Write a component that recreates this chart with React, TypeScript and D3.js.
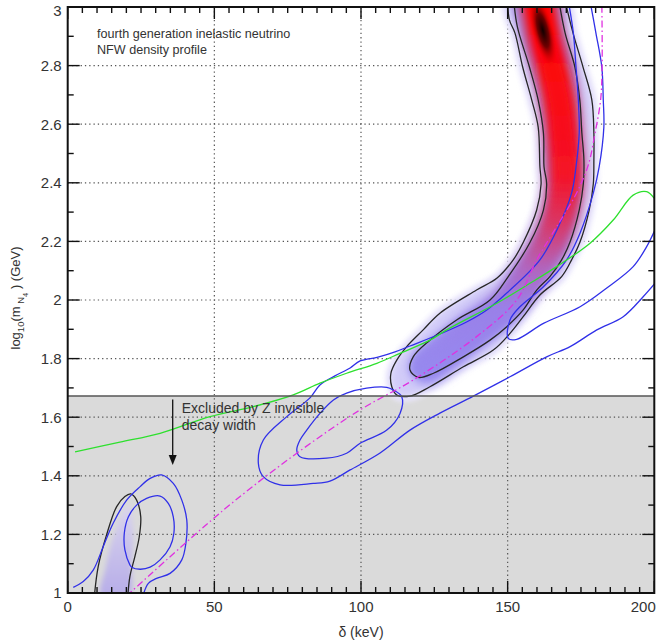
import React from "react";
import * as d3 from "d3";

type P = [number, number];

// ---------- axes ----------
const xDomain: [number, number] = [0, 200];
const yDomain: [number, number] = [1, 3];
const xMajorTicks = [0, 50, 100, 150, 200];
const xTickLabels = ["0", "50", "100", "150", "200"];
const yMajorTicks = [1, 1.2, 1.4, 1.6, 1.8, 2, 2.2, 2.4, 2.6, 2.8, 3];
const yTickLabels = ["1", "1.2", "1.4", "1.6", "1.8", "2", "2.2", "2.4", "2.6", "2.8", "3"];
const xGridValues = [50, 100, 150];
const yGridValues = [1.2, 1.4, 1.6, 1.8, 2, 2.2, 2.4, 2.6, 2.8];
const xLabel = "δ (keV)";

// ---------- Z invisible width exclusion ----------
const zInvisibleLimit = 1.672;
const annotationLines = ["Excluded by Z invisible", "decay width"];
const annotationAnchor: P = [38.9, 1.614];
const arrowFromTo: [P, P] = [[35.8, 1.66], [35.8, 1.437]];
const titleLines = ["fourth generation inelastic neutrino", "NFW density profile"];
const titleAnchor: P = [10, 2.894];

// ---------- main likelihood band (black contours, heat map) ----------
const band95: P[] = [
  [150.0, 3.02], [150.6, 2.956], [152.5, 2.911], [155.1, 2.796], [158.2, 2.683], [160.4, 2.591],
  [161.0, 2.455], [161.4, 2.396], [159.9, 2.307], [155.3, 2.196], [151.9, 2.137], [146.4, 2.075],
  [139.4, 2.034], [126.9, 1.955], [121.2, 1.898], [115.6, 1.841], [112.2, 1.795], [110.2, 1.75],
  [110.5, 1.704], [112.2, 1.676], [116.7, 1.672], [123.5, 1.704], [134.9, 1.772], [145.1, 1.829],
  [150.8, 1.886], [155.3, 1.943], [161.0, 2.017], [168.4, 2.08], [171.8, 2.137], [174.6, 2.196],
  [177.8, 2.307], [179.2, 2.396], [179.4, 2.478], [179.4, 2.57], [178.7, 2.683], [175.7, 2.795],
  [172.3, 2.911], [169.6, 3.02],
];
const band68: P[] = [
  [152.1, 3.02], [153.3, 2.933], [157.4, 2.796], [160.4, 2.683], [162.2, 2.57], [162.4, 2.455],
  [163.3, 2.396], [162.2, 2.307], [157.6, 2.196], [150.2, 2.08], [144.0, 2.0], [132.6, 1.932],
  [123.5, 1.863], [117.8, 1.806], [116.7, 1.761], [119.5, 1.736], [124.7, 1.75], [134.9, 1.806],
  [144.0, 1.863], [149.7, 1.909], [155.3, 1.966], [159.9, 2.034], [164.4, 2.08], [168.4, 2.137],
  [171.2, 2.196], [174.4, 2.307], [175.8, 2.396], [176.0, 2.478], [175.3, 2.57], [174.6, 2.683],
  [172.9, 2.796], [169.6, 2.911], [167.5, 3.02],
];
const bandSpine: P[] = [
  [160.3, 3.03], [162.5, 2.9], [165.1, 2.796], [167.5, 2.683], [168.8, 2.57], [169.6, 2.396],
  [168.3, 2.307], [164.4, 2.195], [157.3, 2.08], [151.3, 2.0], [139.6, 1.909], [130.7, 1.829],
  [123.0, 1.77],
];
const darkCore: P = [162.0, 2.92];

// ---------- low-mass island ----------
const lowBlack: P[] = [
  [9.1, 0.99], [10.4, 1.09], [13.3, 1.2], [16.7, 1.295], [19.5, 1.329], [21.5, 1.338], [23.5, 1.317],
  [24.9, 1.26], [24.4, 1.192], [22.9, 1.124], [21.2, 1.056], [20.5, 0.99],
];
const lowBlob: P[] = [
  [11.5, 0.99], [13.0, 1.09], [15.5, 1.19], [18.5, 1.27], [20.8, 1.3], [22.3, 1.22], [21.8, 1.1], [21.0, 0.99],
];

// ---------- second analysis (blue contours) ----------
const blue95Main: P[] = [
  [170.7, 3.02], [172.4, 2.911], [173.3, 2.795], [174.1, 2.683], [174.4, 2.57], [173.3, 2.454],
  [171.8, 2.365], [167.3, 2.25], [161.0, 2.137], [149.7, 2.024], [142.9, 1.966], [136.0, 1.925],
  [126.9, 1.884], [116.7, 1.843], [111.6, 1.823], [105.8, 1.805], [99.7, 1.792], [96.3, 1.768],
  [91.1, 1.741], [86.0, 1.71], [82.6, 1.666], [74.7, 1.602], [66.7, 1.522], [65.0, 1.443],
  [66.7, 1.397], [72.4, 1.369], [83.7, 1.374], [89.4, 1.382], [96.3, 1.42], [106.5, 1.478],
  [116.7, 1.556], [126.9, 1.614], [138.3, 1.672], [150.8, 1.738], [163.3, 1.806], [171.3, 1.841],
  [180.4, 1.898], [189.4, 1.943], [196.2, 2.011], [200.5, 2.06],
];
const blue68Right: P[] = [
  [178.1, 3.02], [180.1, 2.911], [182.1, 2.795], [182.6, 2.683], [182.8, 2.59], [181.2, 2.454],
  [179.2, 2.365], [174.7, 2.229], [170.1, 2.137], [162.2, 2.045], [154.2, 1.977], [150.8, 1.932],
  [150.2, 1.869], [153.1, 1.866], [162.2, 1.92], [174.7, 1.977], [183.8, 2.041], [192.8, 2.114],
  [197.4, 2.182], [200.5, 2.245],
];
const blue68Mid: P[] = [
  [111.0, 1.693], [113.9, 1.67], [113.3, 1.613], [108.8, 1.556], [99.7, 1.511], [95.1, 1.477],
  [88.3, 1.46], [79.2, 1.465], [78.1, 1.488], [79.2, 1.522], [81.5, 1.556], [86.0, 1.613],
  [90.6, 1.659], [95.1, 1.682], [101.9, 1.699], [108.8, 1.702],
];
const blue95Low: P[] = [
  [1.9, 1.019], [5.3, 1.039], [8.7, 1.078], [12.1, 1.158], [15.5, 1.238], [20.1, 1.317], [24.7, 1.363],
  [28.1, 1.391], [32.0, 1.403], [36.0, 1.374], [38.9, 1.317], [40.6, 1.249], [40.3, 1.17],
  [38.9, 1.113], [34.9, 1.067], [30.3, 1.05], [27.5, 1.033], [25.8, 0.995],
];
const blue68Low: P[] = [
  [21.2, 1.096], [19.5, 1.147], [19.3, 1.204], [20.7, 1.26], [23.5, 1.3], [26.9, 1.323], [31.5, 1.331],
  [34.3, 1.306], [36.0, 1.26], [36.2, 1.204], [34.9, 1.158], [31.5, 1.113], [28.1, 1.088],
  [24.7, 1.081], [21.8, 1.088],
];

// ---------- theory line (magenta) and green limit ----------
const magentaLine: P[] = [
  [20.1, 0.99], [53.1, 1.283], [78.1, 1.477], [99.7, 1.625], [117.8, 1.727], [139.4, 1.875],
  [153.1, 2.0], [159.9, 2.137], [166.7, 2.25], [173.5, 2.365], [177.5, 2.461], [179.8, 2.57],
  [181.7, 2.683], [182.2, 2.795], [182.1, 3.02],
];
const greenLine: P[] = [
  [2.5, 1.482], [17.8, 1.515], [31.5, 1.545], [48.5, 1.602], [63.3, 1.636], [76.9, 1.676],
  [86.0, 1.716], [95.1, 1.75], [105.4, 1.784], [113.3, 1.818], [123.5, 1.863], [129.2, 1.898],
  [146.3, 1.989], [157.6, 2.057], [166.7, 2.114], [178.1, 2.194], [186.0, 2.273], [192.8, 2.358],
  [197.4, 2.37], [200.0, 2.347],
];

const FONT = "'Liberation Sans', Arial, Helvetica, sans-serif";

export default function App() {
  const W = 665;
  const H = 642;
  const x = d3.scaleLinear().domain(xDomain).range([67.7, 654.3]);
  const y = d3.scaleLinear().domain(yDomain).range([593, 7]);
  const [x0, x1] = x.range();
  const [yb, yt] = y.range();

  const smooth = d3.line<P>().x(d => x(d[0])).y(d => y(d[1])).curve(d3.curveCatmullRom.alpha(0.5));
  const smoothClosed = d3.line<P>().x(d => x(d[0])).y(d => y(d[1])).curve(d3.curveCatmullRomClosed.alpha(0.5));

  const xMinor = d3.range(0, 200.001, 5);
  const yMinor = d3.range(1, 3.0001, 0.1);

  const blue = "#3030e8";
  const black = "#262626";
  const txt = "#333";

  return (
    <svg width={W} height={H} style={{ position: "absolute", left: 0, top: 0, background: "#fff" }}
      xmlns="http://www.w3.org/2000/svg">
      <defs>
        <clipPath id="plot">
          <rect x={x0} y={yt} width={x1 - x0} height={yb - yt} />
        </clipPath>
        <filter id="b2" x="-50%" y="-50%" width="200%" height="200%">
          <feGaussianBlur stdDeviation={2.5} />
        </filter>
        <filter id="b3" x="-50%" y="-50%" width="200%" height="200%">
          <feGaussianBlur stdDeviation={3.5} />
        </filter>
        <filter id="b5" x="-50%" y="-50%" width="200%" height="200%">
          <feGaussianBlur stdDeviation={5} />
        </filter>
        <filter id="b7" x="-50%" y="-50%" width="200%" height="200%">
          <feGaussianBlur stdDeviation={6} />
        </filter>
        <linearGradient id="coreGrad" gradientUnits="userSpaceOnUse" x1={0} x2={0} y1={y(1.72)} y2={y(3)}>
          <stop offset="0" stopColor="#968af0" />
          <stop offset="0.2" stopColor="#9a80e8" />
          <stop offset="0.3" stopColor="#b066c0" />
          <stop offset="0.42" stopColor="#d83868" />
          <stop offset="0.55" stopColor="#f41428" />
          <stop offset="1" stopColor="#ff0000" />
        </linearGradient>
        <radialGradient id="darkGrad">
          <stop offset="0" stopColor="#100000" />
          <stop offset="0.45" stopColor="#700000" />
          <stop offset="1" stopColor="#ff0000" stopOpacity={0} />
        </radialGradient>
        <linearGradient id="blobGrad" gradientUnits="userSpaceOnUse" x1={0} x2={0} y1={y(1.0)} y2={y(1.33)}>
          <stop offset="0" stopColor="#b8aee8" />
          <stop offset="1" stopColor="#dcd8ee" />
        </linearGradient>
      </defs>

      {/* plot background */}
      <rect x={x0} y={yt} width={x1 - x0} height={yb - yt} fill="#fff" />
      {/* excluded region */}
      <rect x={x0} y={y(zInvisibleLimit)} width={x1 - x0} height={yb - y(zInvisibleLimit)} fill="#dadada" />

      {/* grid */}
      <g stroke="#555" strokeWidth={1.2} strokeDasharray="1.3 3">
        {xGridValues.map(v => (
          <line key={"gx" + v} x1={x(v)} x2={x(v)} y1={yt} y2={yb} />
        ))}
        {yGridValues.map(v => (
          <line key={"gy" + v} x1={x0} x2={x1} y1={y(v)} y2={y(v)} />
        ))}
      </g>

      <g clipPath="url(#plot)">
        {/* heat map of the main band */}
        <path d={smoothClosed(band95) || ""} fill="#ece9fc" stroke="#ece9fc" strokeWidth={10} filter="url(#b2)" />
        <path d={smoothClosed(band95) || ""} fill="#d2ccf8" filter="url(#b3)" />
        <path d={smoothClosed(band68) || ""} fill="#9c91ee" filter="url(#b3)" />
        <path d={smooth(bandSpine) || ""} fill="none" stroke="url(#coreGrad)" strokeWidth={34}
          strokeLinecap="round" filter="url(#b7)" />
        <path d={smooth(bandSpine) || ""} fill="none" stroke="url(#coreGrad)" strokeWidth={18}
          strokeLinecap="round" filter="url(#b3)" opacity={0.8} />
        <ellipse cx={x(darkCore[0])} cy={y(darkCore[1])} rx={11} ry={38}
          transform={`rotate(-14 ${x(darkCore[0])} ${y(darkCore[1])})`} fill="url(#darkGrad)" />

        {/* low-mass island heat */}
        <path d={smoothClosed(lowBlob) || ""} fill="url(#blobGrad)" filter="url(#b2)" />

        {/* black contours */}
        <path d={smooth(band95) || ""} fill="none" stroke={black} strokeWidth={1.3} />
        <path d={smooth(band68) || ""} fill="none" stroke={black} strokeWidth={1.3} />
        <path d={smooth(lowBlack) || ""} fill="none" stroke={black} strokeWidth={1.3} />

        {/* blue contours */}
        <g fill="none" stroke={blue} strokeWidth={1.3}>
          <path d={smooth(blue95Main) || ""} />
          <path d={smooth(blue68Right) || ""} />
          <path d={smoothClosed(blue68Mid) || ""} />
          <path d={smooth(blue95Low) || ""} />
          <path d={smoothClosed(blue68Low) || ""} />
        </g>

        {/* green and magenta lines */}
        <path d={smooth(greenLine) || ""} fill="none" stroke="#2ee02e" strokeWidth={1.3} />
        <path d={smooth(magentaLine) || ""} fill="none" stroke="#e030e0" strokeWidth={1.3}
          strokeDasharray="7 3 1.5 3" />
      </g>

      {/* exclusion boundary line */}
      <line x1={x0} x2={x1} y1={y(zInvisibleLimit)} y2={y(zInvisibleLimit)} stroke="#555" strokeWidth={1.5} />

      {/* annotation */}
      <g fontFamily={FONT} fill={txt}>
        {titleLines.map((t, i) => (
          <text key={t} x={x(titleAnchor[0])} y={y(titleAnchor[1]) + i * 15.5} fontSize={12.6}>{t}</text>
        ))}
        {annotationLines.map((t, i) => (
          <text key={t} x={x(annotationAnchor[0])} y={y(annotationAnchor[1]) + i * 17} fontSize={14}>{t}</text>
        ))}
      </g>
      <line x1={x(arrowFromTo[0][0])} x2={x(arrowFromTo[1][0])} y1={y(arrowFromTo[0][1])}
        y2={y(arrowFromTo[1][1]) - 8} stroke="#111" strokeWidth={1.3} />
      <path d={`M${x(arrowFromTo[1][0])},${y(arrowFromTo[1][1])} l-4,-10 l8,0 z`} fill="#111" />

      {/* frame and ticks */}
      <g stroke="#111" strokeWidth={1.4}>
        {xMinor.map(v => {
          const major = xMajorTicks.includes(v);
          const len = major ? 12 : 6;
          return (
            <g key={"xt" + v}>
              <line x1={x(v)} x2={x(v)} y1={yb} y2={yb - len} />
              <line x1={x(v)} x2={x(v)} y1={yt} y2={yt + len} />
            </g>
          );
        })}
        {yMinor.map((v, i) => {
          const len = i % 2 === 0 ? 12 : 6;
          return (
            <g key={"yt" + i}>
              <line x1={x0} x2={x0 + len} y1={y(v)} y2={y(v)} />
              <line x1={x1} x2={x1 - len} y1={y(v)} y2={y(v)} />
            </g>
          );
        })}
      </g>
      <rect x={x0} y={yt} width={x1 - x0} height={yb - yt} fill="none" stroke="#111" strokeWidth={2} />

      {/* tick labels */}
      <g fontFamily={FONT} fontSize={15} fill={txt}>
        {yMajorTicks.map((v, i) => (
          <text key={"yl" + v} x={x0 - 6} y={Math.max(y(v), yt + 4)} dy="0.36em" textAnchor="end">{yTickLabels[i]}</text>
        ))}
        {xMajorTicks.map((v, i) => (
          <text key={"xl" + v} x={Math.min(x(v), x1 - 11)} y={yb + 19} textAnchor="middle">{xTickLabels[i]}</text>
        ))}
      </g>

      {/* axis titles */}
      <text x={(x0 + x1) / 2} y={637} textAnchor="middle" fontFamily={FONT} fontSize={14} fill={txt}>{xLabel}</text>
      <text transform={`translate(20,${(yt + yb) / 2 - 2}) rotate(-90)`} textAnchor="middle"
        fontFamily={FONT} fontSize={13} fill={txt}>
        log<tspan fontSize={9.5} dy={4}>10</tspan>
        <tspan dy={-4}>(m</tspan>
        <tspan fontSize={9.5} dy={4}> N</tspan>
        <tspan fontSize={7.5} dy={4}>4</tspan>
        <tspan dy={-8}> ) (GeV)</tspan>
      </text>
    </svg>
  );
}
